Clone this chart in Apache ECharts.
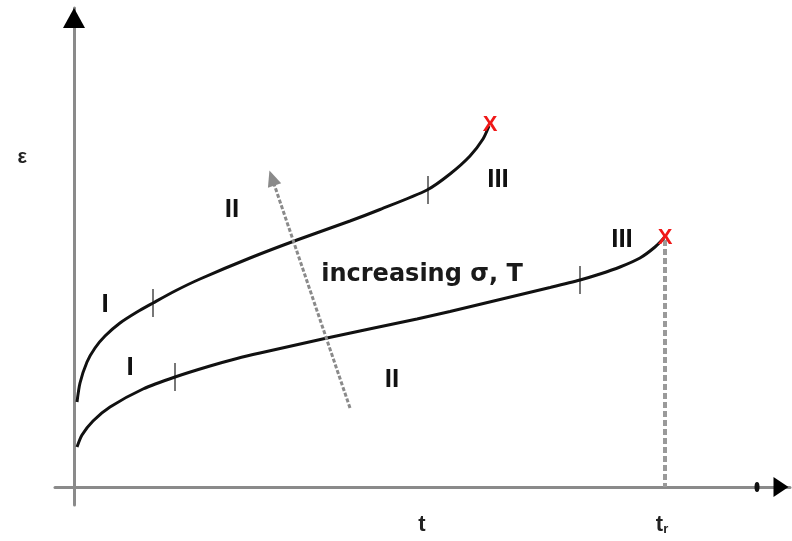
<!DOCTYPE html>
<html>
<head>
<meta charset="utf-8">
<script src="https://cdn.jsdelivr.net/npm/echarts@6/dist/echarts.min.js"></script>
<style>html,body{margin:0;padding:0;background:#fff;}#c{width:792px;height:541px;}</style>
</head>
<body>
<div id="c"></div>
<script>
// Curves: [time, strain] in arbitrary units
var upperCurve = [[3,85],[6,104],[13,125],[21,139],[31,151],[46,164],[63,175],[79,184],[101,196],[126,208],[176,229],[223,247],[276,266],[306,277.5],[353,297],[376,313],[396,331],[409,348],[415,361]];
var lowerCurve = [[3,40],[8,52],[19,66],[36,80],[69,98],[101,110],[136,121],[163,128.5],[186,134],[253,149],[300,159],[343,168],[376,175.5],[426,187.5],[476,199.5],[506,207],[526,213],[546,220],[566,229],[581,240],[590,249]];
// Stage boundary ticks on the curves
var stageTicks = [[79,184],[354,297],[101,110],[506,207]];
// Rupture points
var rupturePoints = [[416,362],[591,249]];
// Rupture time drop line
var ruptureLine = [[591,247],[591,0]];
// Stage labels
var stageLabels = [
  {value:[31,182], text:'I'},
  {value:[56,119], text:'I'},
  {value:[158,277], text:'II'},
  {value:[318,107], text:'II'},
  {value:[424,307], text:'III'},
  {value:[548,247], text:'III'}
];
// Trend arrow
var arrowStart = [276,79];
var arrowEnd = [198,309];
var arrowText = {value:[348,212], text:'increasing \u03c3, T'};
// Axis tick labels
var xTickValues = [348, 588];
var xTickLabels = ['t', 't{s|r}'];
var yTickValues = [330];
var yTickLabels = ['\u03b5'];
// Axis arrow marks
var yArrow = [[0,469]];
var xArrow = [[707,0]];
var xDot = [[683,0]];

var chart = echarts.init(document.getElementById('c'), null, {renderer:'canvas'});
var FONT = 'Liberation Sans, Arial, sans-serif';
var HIDE = {color:'rgba(0,0,0,0)', opacity:1};
chart.setOption({
  animation:false,
  backgroundColor:'#fff',
  grid:{left:55, right:2, top:8, bottom:36, containLabel:false, outerBoundsMode:'none'},
  xAxis:{type:'value', min:-19, max:716,
    axisLine:{onZero:true, lineStyle:{color:'#8a8a8a', width:3}},
    axisTick:{show:false}, splitLine:{show:false},
    axisLabel:{customValues:xTickValues, margin:9, color:'#222', fontFamily:FONT, fontWeight:'bold', fontSize:22,
      formatter:function(v){var i=xTickValues.indexOf(v);return i>=0?xTickLabels[i]:'';},
      rich:{s:{fontSize:13, fontWeight:'bold', color:'#222', fontFamily:FONT, verticalAlign:'bottom', padding:[7,0,0,0]}}}
  },
  yAxis:{type:'value', min:-18, max:479,
    axisLine:{onZero:true, lineStyle:{color:'#8a8a8a', width:3}},
    axisTick:{show:false}, splitLine:{show:false},
    axisLabel:{customValues:yTickValues, margin:28, color:'#222', fontFamily:FONT, fontWeight:'bold', fontSize:20,
      formatter:function(v){var i=yTickValues.indexOf(v);return i>=0?yTickLabels[i]:'';}}
  },
  series:[
    {type:'line', data:ruptureLine, showSymbol:false, lineStyle:{color:'#9a9a9a', width:4, type:[6,3]}, z:1},
    {type:'line', data:upperCurve, smooth:0.25, showSymbol:false, lineStyle:{color:'#111', width:3}, z:3},
    {type:'line', data:lowerCurve, smooth:0.25, showSymbol:false, lineStyle:{color:'#111', width:3}, z:3},
    {type:'scatter', data:stageTicks, symbol:'rect', symbolSize:[2,28], itemStyle:{color:'#777', opacity:1}, z:2},
    {type:'scatter', data:rupturePoints, symbolSize:1, itemStyle:HIDE, z:5,
      label:{show:true, position:'inside', formatter:'X', color:'#f01818', fontFamily:FONT, fontWeight:'bold', fontSize:22}},
    {type:'scatter', data:stageLabels.map(function(d){return {value:d.value, name:d.text};}), symbolSize:1, itemStyle:HIDE,
      label:{show:true, position:'inside', formatter:'{b}', color:'#111', fontFamily:FONT, fontWeight:'bold', fontSize:26}},
    {type:'scatter', data:[{value:arrowText.value, name:arrowText.text}], symbolSize:1, itemStyle:HIDE,
      label:{show:true, position:'inside', formatter:'{b}', color:'#1a1a1a', fontFamily:'DejaVu Sans, sans-serif', fontWeight:'bold', fontSize:24}},
    {type:'scatter', data:yArrow, symbol:'triangle', symbolSize:[22,20], itemStyle:{color:'#000', opacity:1}, z:4},
    {type:'scatter', data:xArrow, symbol:'triangle', symbolRotate:-90, symbolSize:[20,15], itemStyle:{color:'#000', opacity:1}, z:4},
    {type:'scatter', data:xDot, symbol:'circle', symbolSize:[5,10], itemStyle:{color:'#111', opacity:1}, z:4},
    {type:'line', data:[], showSymbol:false, z:2,
      markLine:{silent:true, symbol:['none','triangle'], symbolSize:[14,16], label:{show:false},
        lineStyle:{color:'#8a8a8a', width:3, type:[4,2]},
        data:[[{coord:arrowStart},{coord:arrowEnd}]]}}
  ]
});
</script>
</body>
</html>
